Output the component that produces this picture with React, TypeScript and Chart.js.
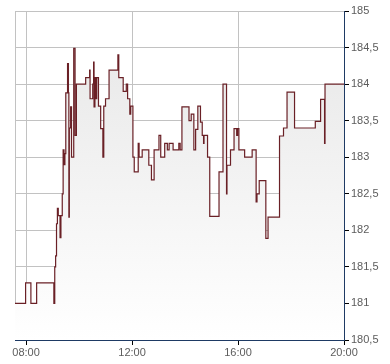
import React, { useEffect, useRef } from "react";
import { Chart, registerables } from "chart.js";

Chart.register(...registerables);

const times = [
  "07:35", "07:59", "08:11", "08:24", "09:03", "09:05", "09:07", "09:09", "09:11", "09:13",
  "09:17", "09:19", "09:22", "09:24", "09:26", "09:28", "09:30", "09:34", "09:36", "09:37",
  "09:38", "09:41", "09:43", "09:48", "09:51", "09:54", "10:15", "10:24", "10:25", "10:31",
  "10:33", "10:34", "10:36", "10:38", "10:40", "10:44", "10:49", "10:54", "10:56", "11:00",
  "11:08", "11:28", "11:30", "11:40", "11:47", "11:50", "11:55", "11:57", "12:02", "12:05",
  "12:14", "12:16", "12:23", "12:38", "12:44", "12:50", "13:01", "13:05", "13:14", "13:20",
  "13:24", "13:33", "13:46", "13:49", "13:53", "14:09", "14:14", "14:20", "14:24", "14:29",
  "14:35", "14:39", "14:42", "14:43", "14:51", "14:56", "15:17", "15:26", "15:34", "15:35",
  "15:43", "15:51", "15:57", "15:59", "16:02", "16:15", "16:32", "16:41", "16:43", "16:48",
  "17:03", "17:08", "17:34", "17:43", "17:51", "18:08", "18:55", "19:07", "19:16", "19:17",
  "20:00",
];

const prices = [
  181.0, 181.28, 181.0, 181.28, 181.0, 181.5, 181.65, 182.09, 182.3, 182.2,
  181.9, 182.2, 182.5, 183.1, 182.9, 183.05, 183.88, 184.28, 183.88, 182.18,
  183.4, 183.69, 183.0, 184.49, 183.3, 184.0, 184.09, 184.19, 183.8, 184.0,
  184.3, 183.69, 184.09, 183.8, 184.09, 183.7, 183.39, 183.0, 183.7, 183.8,
  184.19, 184.4, 184.09, 183.9, 184.0, 183.8, 183.59, 183.7, 183.0, 182.8,
  183.19, 183.0, 183.1, 182.89, 182.69, 183.1, 183.3, 183.0, 183.19, 183.1,
  183.19, 183.1, 183.19, 183.1, 183.69, 183.5, 183.59, 183.1, 183.38, 183.7,
  183.48, 183.3, 183.19, 183.3, 183.0, 182.19, 182.8, 184.0, 182.5, 182.89,
  183.1, 183.39, 183.3, 183.39, 183.1, 183.0, 183.1, 182.39, 182.5, 182.68,
  181.89, 182.18, 183.29, 183.4, 183.89, 183.4, 183.49, 183.79, 183.19, 184.0,
  184.0,
];

const xTickLabels = ["08:00", "12:00", "16:00", "20:00"];
const yTickValues = [180.5, 181, 181.5, 182, 182.5, 183, 183.5, 184, 184.5, 185];
const xStart = "07:35";
const xEnd = "20:00";

const toMin = (s: string) => {
  const [h, m] = s.split(":").map(Number);
  return h * 60 + m;
};
const fmtTime = (v: number) => {
  const h = Math.floor(v / 60);
  const m = Math.round(v % 60);
  return String(h).padStart(2, "0") + ":" + String(m).padStart(2, "0");
};

const GRID = "#c2c2c2";
const AXIS = "#1e3a64";
const LINE = "#6a2026";
const TEXT = "#5c5c5c";
const FONT = { family: "'Liberation Sans', Arial, sans-serif", size: 11 };

const leftBorder = {
  id: "leftBorder",
  beforeDatasetsDraw(chart: any) {
    const { ctx, chartArea } = chart;
    ctx.save();
    ctx.strokeStyle = GRID;
    ctx.lineWidth = 1;
    ctx.beginPath();
    ctx.moveTo(Math.round(chartArea.left) + 0.5, chartArea.top);
    ctx.lineTo(Math.round(chartArea.left) + 0.5, chartArea.bottom);
    ctx.stroke();
    ctx.restore();
  },
};

export default function App() {
  const ref = useRef<HTMLCanvasElement>(null);

  useEffect(() => {
    if (!ref.current) return;
    const chart = new Chart(ref.current, {
      type: "line",
      data: {
        datasets: [
          {
            data: times.map((t, i) => ({ x: toMin(t), y: prices[i] })),
            stepped: true,
            borderColor: LINE,
            borderWidth: 1.2,
            pointRadius: 0,
            fill: "start",
            backgroundColor: (c: any) => {
              const a = c.chart.chartArea;
              if (!a) return "rgba(0,0,0,0)";
              const g = c.chart.ctx.createLinearGradient(0, a.top, 0, a.bottom);
              g.addColorStop(0, "#e6e6e6");
              g.addColorStop(1, "#ffffff");
              return g;
            },
          },
        ],
      },
      options: {
        responsive: true,
        maintainAspectRatio: false,
        animation: false,
        layout: { padding: { left: 15, top: 11, right: 0, bottom: 0 } },
        plugins: { legend: { display: false }, tooltip: { enabled: false } },
        scales: {
          x: {
            type: "linear",
            min: toMin(xStart),
            max: toMin(xEnd),
            afterBuildTicks: (s: any) => {
              s.ticks = xTickLabels.map((t) => ({ value: toMin(t) }));
            },
            afterFit: (s: any) => {
              s.height = 24;
            },
            ticks: {
              autoSkip: false,
              maxRotation: 0,
              padding: 1,
              color: TEXT,
              font: FONT,
              callback: (v: any) => fmtTime(Number(v)),
            },
            grid: { color: GRID, tickColor: "#000", tickLength: 5, lineWidth: 1 },
            border: { color: AXIS, width: 1 },
          },
          y: {
            position: "right",
            min: 180.5,
            max: 185,
            afterBuildTicks: (s: any) => {
              s.ticks = yTickValues.map((v) => ({ value: v }));
            },
            afterFit: (s: any) => {
              s.width = 46;
            },
            ticks: {
              padding: 2,
              color: TEXT,
              font: FONT,
              callback: (v: any) => String(v).replace(".", ","),
            },
            grid: { color: GRID, tickColor: "#000", tickLength: 5, lineWidth: 1 },
            border: { color: AXIS, width: 1 },
          },
        },
      },
      plugins: [leftBorder],
    } as any);
    return () => chart.destroy();
  }, []);

  return (
    <div style={{ position: "fixed", left: 0, top: 0, width: 390, height: 364, background: "#fff" }}>
      <canvas ref={ref} />
    </div>
  );
}
